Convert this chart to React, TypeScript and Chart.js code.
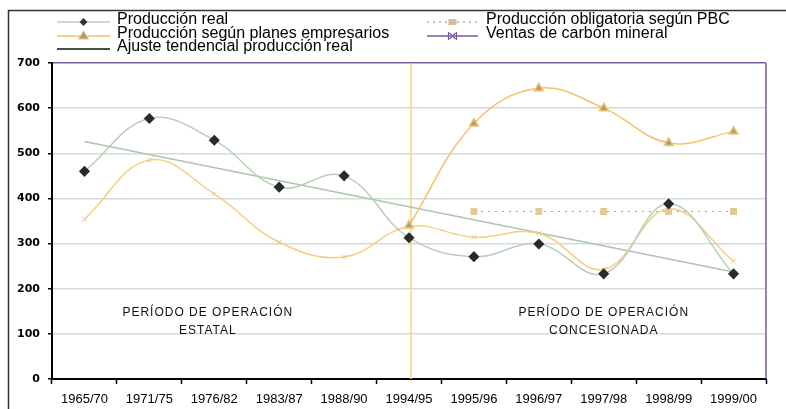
import React, { useEffect, useRef } from "react";
import { Chart, registerables } from "chart.js";

Chart.register(...registerables);

const categories = [
  "1965/70", "1971/75", "1976/82", "1983/87", "1988/90", "1994/95",
  "1995/96", "1996/97", "1997/98", "1998/99", "1999/00",
];
const produccionReal = [460, 577, 529, 425, 450, 313, 271, 299, 233, 388, 233];
const planesEmpresarios = [null, null, null, null, null, 340, 566, 644, 600, 523, 548];
const obligatoriaPBC = [null, null, null, null, null, null, 371, 371, 371, 371, 371];
const ventasCarbon = [354, 485, 410, 303, 270, 338, 314, 323, 243, 377, 261];
const ajusteTendencial = [526, null, null, null, null, null, null, null, null, null, 237];
const yMin = 0;
const yMax = 700;
const yStep = 100;
const dividerCategory = "1994/95";
const leftPeriodLines = ["PERÍODO DE OPERACIÓN", "ESTATAL"];
const rightPeriodLines = ["PERÍODO DE OPERACIÓN", "CONCESIONADA"];
const legendNames = {
  real: "Producción real",
  planes: "Producción según planes empresarios",
  ajuste: "Ajuste tendencial producción real",
  pbc: "Producción obligatoria según PBC",
  ventas: "Ventas de carbón mineral",
};

const GREEN = "#b9cfb9";
const ORANGE = "#f4c266";
const ORANGE_LIGHT = "#f6cd82";
const PURPLE = "#7a5a9e";

function drawMarker(ctx: CanvasRenderingContext2D, kind: string, x: number, y: number) {
  ctx.save();
  if (kind === "diamond") {
    ctx.fillStyle = "#333";
    ctx.beginPath();
    ctx.moveTo(x, y - 4);
    ctx.lineTo(x + 4, y);
    ctx.lineTo(x, y + 4);
    ctx.lineTo(x - 4, y);
    ctx.closePath();
    ctx.fill();
  } else if (kind === "triangle") {
    ctx.fillStyle = "#a39c94";
    ctx.strokeStyle = ORANGE;
    ctx.lineWidth = 1;
    ctx.beginPath();
    ctx.moveTo(x, y - 5);
    ctx.lineTo(x + 5, y + 3);
    ctx.lineTo(x - 5, y + 3);
    ctx.closePath();
    ctx.fill();
    ctx.stroke();
  } else if (kind === "square") {
    ctx.fillStyle = "#d9bf92";
    ctx.fillRect(x - 4, y - 3, 8, 6);
  } else if (kind === "xbar") {
    ctx.strokeStyle = PURPLE;
    ctx.lineWidth = 1.2;
    ctx.beginPath();
    ctx.moveTo(x - 3, y - 3);
    ctx.lineTo(x + 3, y + 3);
    ctx.moveTo(x + 3, y - 3);
    ctx.lineTo(x - 3, y + 3);
    ctx.moveTo(x - 4, y - 4);
    ctx.lineTo(x - 4, y + 4);
    ctx.moveTo(x + 4, y - 4);
    ctx.lineTo(x + 4, y + 4);
    ctx.stroke();
  }
  ctx.restore();
}

function drawLegendItem(
  ctx: CanvasRenderingContext2D,
  x0: number, x1: number, ly: number, ty: number,
  color: string, dash: number[], marker: string, text: string, tx: number
) {
  ctx.save();
  ctx.strokeStyle = color;
  ctx.lineWidth = 1.5;
  ctx.setLineDash(dash);
  ctx.beginPath();
  ctx.moveTo(x0, ly);
  ctx.lineTo(x1, ly);
  ctx.stroke();
  ctx.setLineDash([]);
  if (marker) drawMarker(ctx, marker, (x0 + x1) / 2, ly);
  ctx.fillStyle = "#000";
  ctx.font = "16px 'Liberation Sans', Arial, sans-serif";
  ctx.textBaseline = "middle";
  ctx.textAlign = "left";
  ctx.fillText(text, tx, ty);
  ctx.restore();
}

const decorPlugin = {
  id: "decor",
  beforeDatasetsDraw(chart: any) {
    const { ctx, chartArea, scales } = chart;
    const xs = scales.x;
    const ys = scales.y;
    ctx.save();
    ctx.strokeStyle = PURPLE;
    ctx.lineWidth = 1.5;
    ctx.beginPath();
    ctx.moveTo(chartArea.right, chartArea.top);
    ctx.lineTo(chartArea.right, chartArea.bottom);
    ctx.stroke();
    const dx = xs.getPixelForValue(categories.indexOf(dividerCategory)) + 2;
    ctx.strokeStyle = "#f7d27e";
    ctx.lineWidth = 1.5;
    ctx.beginPath();
    ctx.moveTo(dx, chartArea.top);
    ctx.lineTo(dx, chartArea.bottom);
    ctx.stroke();
    ctx.fillStyle = "#111";
    ctx.font = "12px 'Liberation Sans', Arial, sans-serif";
    (ctx as any).letterSpacing = "1px";
    ctx.textAlign = "center";
    ctx.textBaseline = "middle";
    const drawBlock = (lines: string[], idx: number) => {
      const cx = xs.getPixelForValue(idx);
      ctx.fillText(lines[0], cx, ys.getPixelForValue(146));
      ctx.fillText(lines[1], cx, ys.getPixelForValue(106));
    };
    drawBlock(leftPeriodLines, 1.9);
    drawBlock(rightPeriodLines, 8.0);
    ctx.restore();
  },
  afterDraw(chart: any) {
    const { ctx } = chart;
    ctx.save();
    ctx.strokeStyle = "#333";
    ctx.lineWidth = 1.5;
    ctx.beginPath();
    ctx.moveTo(8.5, 409);
    ctx.lineTo(8.5, 10.5);
    ctx.lineTo(786, 10.5);
    ctx.stroke();
    ctx.restore();
    drawLegendItem(ctx, 57, 110, 22, 20, GREEN, [], "diamond", legendNames.real, 117);
    drawLegendItem(ctx, 57, 110, 36, 34, ORANGE, [], "triangle", legendNames.planes, 117);
    drawLegendItem(ctx, 57, 110, 49, 47, "#111", [], "", legendNames.ajuste, 117);
    drawLegendItem(ctx, 427, 478, 22, 20, "#aaa", [2, 4], "square", legendNames.pbc, 486);
    drawLegendItem(ctx, 427, 478, 36, 34, PURPLE, [], "xbar", legendNames.ventas, 486);
  },
};

export default function App() {
  const ref = useRef<HTMLCanvasElement | null>(null);
  useEffect(() => {
    if (!ref.current) return;
    const chart = new Chart(ref.current, {
      type: "line",
      data: {
        labels: categories,
        datasets: [
          {
            label: legendNames.real,
            data: produccionReal,
            borderColor: GREEN,
            borderWidth: 1.5,
            tension: 0.4,
            pointStyle: "rectRot",
            pointRadius: 4.5,
            pointBackgroundColor: "#2a2a2a",
            pointBorderColor: "#2a2a2a",
          },
          {
            label: legendNames.planes,
            data: planesEmpresarios,
            borderColor: ORANGE,
            borderWidth: 1.5,
            tension: 0.4,
            pointStyle: "triangle",
            pointRadius: 5,
            pointBackgroundColor: "#a39c94",
            pointBorderColor: ORANGE,
          },
          {
            label: legendNames.pbc,
            data: obligatoriaPBC,
            borderColor: "#a8a0a8",
            borderWidth: 1.2,
            borderDash: [2, 5],
            tension: 0,
            pointStyle: "rect",
            pointRadius: 4,
            pointBackgroundColor: "#e3c993",
            pointBorderColor: "#e3c993",
          },
          {
            label: legendNames.ventas,
            data: ventasCarbon,
            borderColor: ORANGE_LIGHT,
            borderWidth: 1.5,
            tension: 0.4,
            pointStyle: "crossRot",
            pointRadius: 3.5,
            pointBorderColor: "#eac488",
            pointBorderWidth: 1,
          },
          {
            label: legendNames.ajuste,
            data: ajusteTendencial,
            borderColor: "#adc5ad",
            borderWidth: 1.5,
            tension: 0,
            spanGaps: true,
            pointRadius: 0,
          },
        ],
      },
      options: {
        responsive: false,
        animation: false,
        layout: { padding: { top: 63, right: 20, left: 0, bottom: 0 } },
        plugins: { legend: { display: false }, tooltip: { enabled: false } },
        scales: {
          x: {
            offset: true,
            grid: {
              offset: true,
              drawOnChartArea: false,
              drawTicks: true,
              tickLength: 5,
              tickColor: "#000",
              tickWidth: 1.5,
            },
            border: { color: "#000", width: 2 },
            ticks: {
              color: "#000",
              font: { family: "'Liberation Sans', Arial, sans-serif", size: 13 },
              maxRotation: 0,
              autoSkip: false,
              padding: 8,
            },
            afterFit: (s: any) => { s.height = 30; },
          },
          y: {
            min: yMin,
            max: yMax,
            ticks: {
              stepSize: yStep,
              color: "#000",
              font: { family: "'DejaVu Sans', sans-serif", size: 11, weight: "bold" },
              padding: 8,
            },
            grid: {
              color: (c: any) => (c.tick && c.tick.value === yMax ? PURPLE : "#cfdfcf"),
              lineWidth: 1.5,
              tickColor: "#000",
              tickLength: 4,
            },
            border: { color: "#000", width: 2 },
            afterFit: (s: any) => { s.width = 52; },
          },
        },
      },
      plugins: [decorPlugin],
    });
    return () => chart.destroy();
  }, []);
  return (
    <div style={{ position: "absolute", left: 0, top: 0, width: 786, height: 409, background: "#fff" }}>
      <canvas ref={ref} width={786} height={409} style={{ display: "block" }} />
    </div>
  );
}
